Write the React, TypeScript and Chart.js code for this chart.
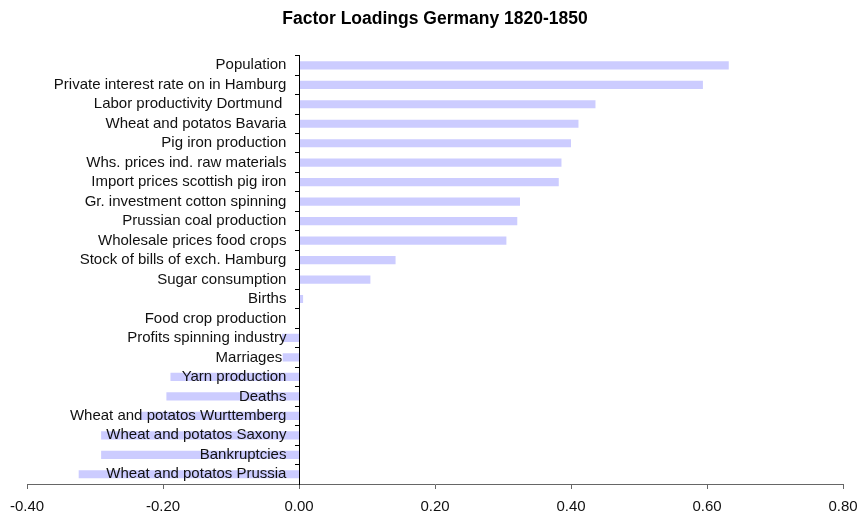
import React, { useEffect, useRef } from "react";
import { Chart, registerables } from "chart.js";

Chart.register(...registerables);

const categories: string[] = [
  "Population",
  "Private interest rate on in Hamburg",
  "Labor productivity Dortmund ",
  "Wheat and potatos Bavaria",
  "Pig iron production",
  "Whs. prices ind. raw materials",
  "Import prices scottish pig iron",
  "Gr. investment cotton spinning",
  "Prussian coal production",
  "Wholesale prices food crops",
  "Stock of bills of exch. Hamburg",
  "Sugar consumption",
  "Births",
  "Food crop production",
  "Profits spinning industry",
  "Marriages ",
  "Yarn production",
  "Deaths",
  "Wheat and potatos Wurttemberg",
  "Wheat and potatos Saxony",
  "Bankruptcies",
  "Wheat and potatos Prussia",
];

const loadings: number[] = [
  0.632, 0.594, 0.436, 0.411, 0.4, 0.386, 0.382, 0.325, 0.321, 0.305, 0.142,
  0.105, 0.006, 0.0, -0.025, -0.024, -0.189, -0.195, -0.234, -0.291, -0.291,
  -0.324,
];

const xMin = -0.4;
const xMax = 0.8;
const xStep = 0.2;

const titleText = "Factor Loadings Germany 1820-1850";

const FONT = "'Liberation Sans', Arial, Helvetica, sans-serif";

export default function App() {
  const canvasRef = useRef<HTMLCanvasElement | null>(null);

  useEffect(() => {
    if (!canvasRef.current) return;
    const chart = new Chart(canvasRef.current, {
      type: "bar",
      data: {
        labels: categories,
        datasets: [
          {
            data: loadings,
            backgroundColor: "#ccccff",
            borderWidth: 0,
            barPercentage: 0.42,
            categoryPercentage: 1,
          },
        ],
      },
      options: {
        indexAxis: "y",
        responsive: false,
        animation: false,
        layout: { padding: { left: 27, right: 17, top: 0, bottom: 0 } },
        plugins: {
          legend: { display: false },
          tooltip: { enabled: false },
          title: {
            display: true,
            text: titleText,
            color: "#000",
            font: { family: FONT, size: 17.5, weight: "bold" },
            padding: { top: 8.5, bottom: 26.1 },
          },
        },
        scales: {
          x: {
            type: "linear",
            position: "bottom",
            min: xMin,
            max: xMax,
            afterFit: (scale: any) => {
              scale.height = 34;
            },
            grid: {
              drawOnChartArea: false,
              drawTicks: true,
              tickLength: 5,
              color: "#666",
            },
            border: { display: true, color: "#666" },
            ticks: {
              stepSize: xStep,
              padding: 2,
              color: "#111",
              font: { family: FONT, size: 15, lineHeight: 2.05 },
              maxRotation: 0,
              callback: (v: any) => Number(v).toFixed(2),
            },
          },
          y: {
            type: "category",
            position: { x: 0 } as any,
            offset: true,
            grid: {
              offset: true,
              drawOnChartArea: false,
              drawTicks: true,
              tickLength: 4,
              color: "#000",
            },
            border: { display: true, color: "#000", z: 1 } as any,
            ticks: { display: false },
          },
          yText: {
            type: "category",
            axis: "y",
            position: { x: -0.0185 } as any,
            offset: true,
            grid: { display: false, drawTicks: false },
            border: { display: false },
            ticks: {
              padding: 0,
              color: "#111",
              z: 1,
              autoSkip: false,
              font: { family: FONT, size: 15 },
            },
          } as any,
        },
      },
    });
    return () => chart.destroy();
  }, []);

  return (
    <div
      style={{
        position: "fixed",
        left: 0,
        top: 0,
        width: 860,
        height: 518,
        background: "#fff",
      }}
    >
      <canvas ref={canvasRef} width={860} height={518} />
    </div>
  );
}
